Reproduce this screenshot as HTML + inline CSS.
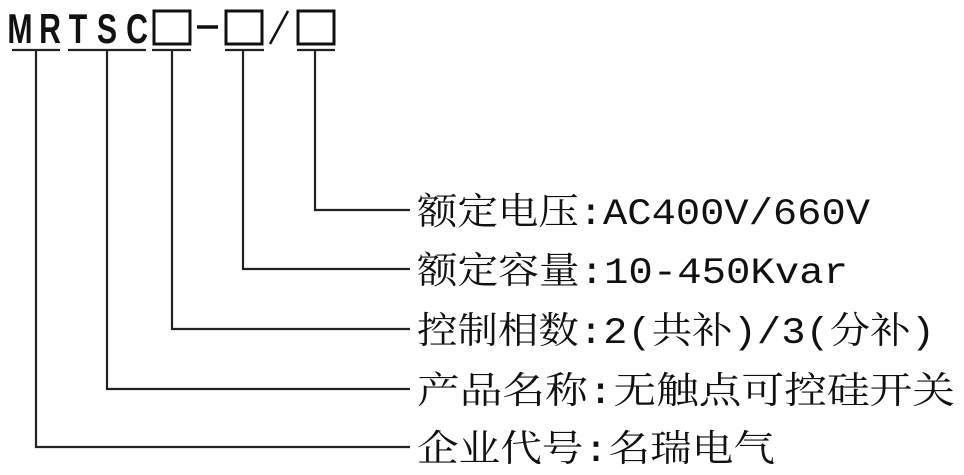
<!DOCTYPE html>
<html><head><meta charset="utf-8"><style>
html,body{margin:0;padding:0;background:#fff;width:964px;height:475px;overflow:hidden}
</style></head><body>
<svg width="964" height="475" viewBox="0 0 964 475" xmlns="http://www.w3.org/2000/svg">
<g font-family="Liberation Sans, sans-serif" font-weight="bold" font-size="42" fill="#111" text-anchor="middle">
<text transform="translate(20,43) scale(0.72,1)">M</text>
<text transform="translate(50,43) scale(0.72,1)">R</text>
<text transform="translate(78,43) scale(0.72,1)">T</text>
<text transform="translate(107,43) scale(0.72,1)">S</text>
<text transform="translate(137,43) scale(0.72,1)">C</text>
</g>
<g fill="none" stroke="#111" stroke-width="3">
<rect x="154" y="11" width="36" height="33"/>
<rect x="226" y="11" width="36" height="33"/>
<rect x="298" y="11" width="36" height="33"/>
<line x1="197" y1="27" x2="218" y2="27" stroke-width="3.5"/>
<line x1="270" y1="44" x2="288" y2="11" stroke-width="2.5"/>
</g>
<g stroke="#222" stroke-width="2.2" fill="none">
<line x1="12" y1="50" x2="60" y2="50"/>
<line x1="68" y1="50" x2="146" y2="50"/>
<line x1="152" y1="50" x2="191" y2="50"/>
<line x1="225" y1="50" x2="264" y2="50"/>
<line x1="297" y1="50" x2="335" y2="50"/>
<polyline points="315,50 315,210 410,210"/>
<polyline points="243,50 243,269 410,269"/>
<polyline points="172,50 172,329 410,329"/>
<polyline points="107,50 107,389 410,389"/>
<polyline points="36,50 36,447 410,447"/>
</g>
<g font-family="Liberation Mono, 'Noto Serif CJK SC', serif" font-size="37" fill="#111" lengthAdjust="spacingAndGlyphs">
<text x="417" y="224" textLength="453" lengthAdjust="spacingAndGlyphs">额定电压:AC400V/660V</text>
<text x="417" y="283" textLength="431" lengthAdjust="spacingAndGlyphs">额定容量:10-450Kvar</text>
<text x="417" y="343" textLength="518" lengthAdjust="spacingAndGlyphs">控制相数:2(共补)/3(分补)</text>
<text x="417" y="403" textLength="538" lengthAdjust="spacingAndGlyphs">产品名称:无触点可控硅开关</text>
<text x="417" y="461" textLength="358" lengthAdjust="spacingAndGlyphs">企业代号:名瑞电气</text>
</g>
</svg>
</body></html>
